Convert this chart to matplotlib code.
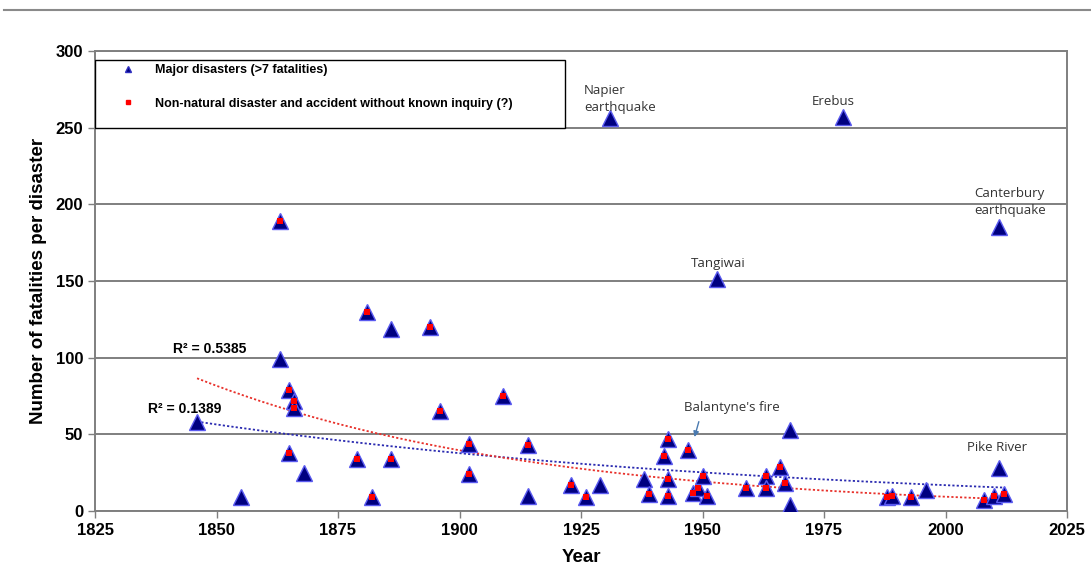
import numpy as np
import matplotlib
matplotlib.use("Agg")
import matplotlib.pyplot as plt
from matplotlib.lines import Line2D
from matplotlib.patches import Rectangle

# ---- data (year, fatalities) ----
years = [1846, 1855, 1863, 1863, 1865, 1866, 1866, 1865, 1868, 1879, 1881, 1882,
         1886, 1886, 1894, 1896, 1902, 1902, 1909, 1914, 1914, 1923, 1926, 1929,
         1931, 1938, 1939, 1942, 1943, 1943, 1943, 1947, 1948, 1949, 1950, 1951,
         1953, 1959, 1963, 1963, 1966, 1967, 1968, 1968, 1979, 1988, 1989, 1993,
         1996, 2008, 2010, 2011, 2012, 2011]
fatalities = [58, 9, 189, 99, 79, 72, 67, 38, 25, 34, 130, 9,
              119, 34, 120, 65, 44, 24, 75, 43, 10, 17, 9, 17,
              256, 21, 11, 36, 47, 21, 10, 40, 12, 15, 23, 10,
              151, 15, 23, 15, 29, 18, 53, 4, 257, 9, 10, 9,
              14, 7, 10, 28, 11, 185]
no_inquiry = [0, 0, 1, 0, 1, 1, 1, 1, 0, 1, 1, 1,
              0, 1, 1, 1, 1, 1, 1, 1, 0, 1, 1, 0,
              0, 0, 1, 1, 1, 1, 1, 1, 1, 1, 1, 1,
              0, 1, 1, 1, 1, 1, 0, 0, 0, 1, 1, 1,
              0, 1, 1, 0, 1, 0]

labels = ["Napier\nearthquake", "Erebus", "Canterbury\nearthquake", "Tangiwai",
          "Balantyne's fire", "Pike River"]
label_pos = [(1925.6, 259), (1977.0, 263), (2013.2, 192), (1953.3, 157), (1956.0, 63), (2010.7, 37)]
label_ha = ['left', 'center', 'center', 'center', 'center', 'center']
r2_labels = ["R² = 0.5385", "R² = 0.1389"]

x = np.array(years, float)
y = np.array(fatalities, float)
m = np.array(no_inquiry, bool)

plt.rcParams['font.family'] = ['Liberation Sans', 'DejaVu Sans']
fig = plt.figure(figsize=(10.91, 5.67), dpi=100)
ax = fig.add_axes([95/1091, 1-511/567, (1067-95)/1091, (511-51)/567])

ax.set_xlim(1825, 2025)
ax.set_ylim(0, 300)
ax.set_xticks(np.arange(1825, 2026, 25))
ax.set_yticks(np.arange(0, 301, 50))
ax.yaxis.grid(True, color='#7f7f7f', lw=1.4)
ax.set_axisbelow(True)
for s in ax.spines.values():
    s.set_color('#7f7f7f'); s.set_linewidth(1.4)
ax.tick_params(axis='both', direction='out', length=5, color='#7f7f7f', width=1,
               labelsize=12)
for t in ax.get_xticklabels() + ax.get_yticklabels():
    t.set_fontweight('bold')

# trendlines (exponential fits)
xs = np.linspace(x.min(), x.max(), 200)
b_all, a_all = np.polyfit(x, np.log(y), 1)
b_red, a_red = np.polyfit(x[m], np.log(y[m]), 1)
ax.plot(xs, np.exp(a_all + b_all*xs), color='#2a2ab0', lw=1.3, ls=(0, (1.2, 1.2)), zorder=2)
ax.plot(xs, np.exp(a_red + b_red*xs), color='#e8302a', lw=1.3, ls=(0, (1.2, 1.2)), zorder=2)

ax.plot(x, y, ls='none', marker='^', ms=11, mfc='#000080', mec='#5a5af0', mew=1.0, zorder=3)
ax.plot(x[m], y[m], ls='none', marker='s', ms=4, mfc='#ff0000', mec='#ff0000', mew=0, zorder=4)

for lab, (lx, ly), ha in zip(labels, label_pos, label_ha):
    ax.text(lx, ly, lab, fontsize=9.5, color='#333333', ha=ha, va='bottom',
            family=['Open Sans', 'DejaVu Sans'], linespacing=1.35, zorder=5)
ax.annotate('', xy=(1948.2, 46.5), xytext=(1949.4, 60),
            arrowprops=dict(arrowstyle='-|>', color='#4a7ab0', lw=1, mutation_scale=8))

ax.text(1841.1, 101, r2_labels[0], fontsize=10, fontweight='bold', ha='left', va='bottom')
ax.text(1835.9, 62, r2_labels[1], fontsize=10, fontweight='bold', ha='left', va='bottom')

ax.set_xlabel('Year', fontsize=13.5, fontweight='bold', labelpad=8)
ax.set_ylabel('Number of fatalities per disaster', fontsize=13.5, fontweight='bold', labelpad=6)

# legend box
ax.add_patch(Rectangle((0, (511-128)/460), (565-95)/972, 68/460, transform=ax.transAxes,
                       facecolor='white', edgecolor='black', lw=1.0, zorder=6))
h1 = Line2D([], [], ls='none', marker='^', ms=5, mfc='#000080', mec='#3030c0')
h2 = Line2D([], [], ls='none', marker='s', ms=3, mfc='#ff0000', mec='#ff0000')
leg = ax.legend([h1, h2], ['Major disasters (>7 fatalities)',
                           'Non-natural disaster and accident without known inquiry (?)'],
                loc='upper left', bbox_to_anchor=(7/972, 1 - 13/460),
                frameon=False, prop=dict(weight='bold', size=9), labelspacing=1.72,
                handletextpad=0.15, borderpad=0.0, borderaxespad=0.0, handlelength=4.1)
leg.set_zorder(7)

fig.add_artist(Line2D([4/1091, 1], [1-10/567, 1-10/567], color='#8a8a8a', lw=1.5))

fig.savefig('out.png', dpi=100)
